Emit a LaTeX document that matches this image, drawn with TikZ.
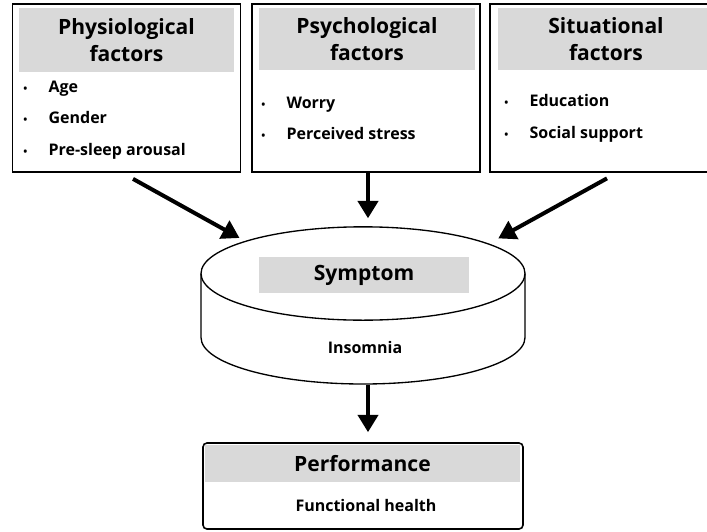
\documentclass[tikz,border=0pt]{standalone}
\usepackage{fontspec}
\setmainfont{Open Sans}
\usepackage{tikz}
\usetikzlibrary{shapes.geometric}
\usetikzlibrary{arrows.meta}
\tikzset{ factor_box/.style = {rectangle, draw, line width=1.3pt, minimum width=171pt, minimum height=126pt} }
\tikzset{ head_box/.style = {rectangle, fill=black!15, align=center, inner sep=0pt, font=\fontsize{15.8}{20.5}\selectfont\bfseries} }
\tikzset{ item_list/.style = {anchor=west, align=left, inner sep=0pt, font=\fontsize{12}{23.5}\selectfont\bfseries} }
\tikzset{ plain_text/.style = {inner sep=0pt, font=\fontsize{12}{14}\selectfont\bfseries} }
\tikzset{ big_arrow/.style = {line width=3pt, -{Triangle[length=13pt,width=15pt]}} }
\newcommand{\dotitem}{\makebox[19pt][l]{\footnotesize\textbullet}}

\begin{document}
\begin{tikzpicture}[x=0.75pt, y=-0.75pt]
            \useasboundingbox (0,0) rectangle (707,532);
            % factor boxes
            \node [factor_box] (0) at (126.5, 88) {};
            \node [factor_box] (1) at (366, 88) {};
            \node [factor_box] (2) at (604, 88) {};
            \node [head_box, minimum width=161pt, minimum height=48pt] (h0) at (126.5, 40) {Physiological\\factors};
            \node [head_box, minimum width=162pt, minimum height=47pt] (h1) at (367, 39) {Psychological\\factors};
            \node [head_box, minimum width=162pt, minimum height=47pt] (h2) at (606, 39) {Situational\\factors};
            \node [item_list] (t0) at (23, 120) {\dotitem Age\\ \dotitem Gender\\ \dotitem Pre-sleep arousal};
            \node [item_list] (t1) at (261, 118.5) {\dotitem Worry\\ \dotitem Perceived stress};
            \node [item_list] (t2) at (504, 118.5) {\dotitem Education\\ \dotitem Social support};
            % symptom cylinder
            \node [ellipse, draw, line width=1pt, outer sep=0pt, minimum width=243pt, minimum height=70pt] (3) at (363, 273.5) {};
            \draw [line width=1pt] (3.west) -- ++(0,64) arc[start angle=180, end angle=0, x radius=162, y radius=46.5] -- (3.east);
            \node [head_box, minimum width=157.5pt, minimum height=27pt] (h3) at (364, 275) {Symptom};
            \node [plain_text] (t3) at (365, 347) {Insomnia};
            \coordinate (base) at (368, 385);
            % performance
            \node [rectangle, rounded corners=3pt, draw, line width=1.2pt, minimum width=240pt, minimum height=64.5pt] (4) at (363, 486) {};
            \node [head_box, minimum width=236pt, minimum height=28pt] (h4) at (362.5, 463.5) {Performance};
            \node [plain_text] (t4) at (366, 505) {Functional health};
            % arrows
            \draw [big_arrow] ([shift={(6.5,6)}]0.south) to ([shift={(-1,-5)}]3.166);
            \draw [big_arrow] ([xshift=1.5pt]1.south) to ([xshift=1.5pt, yshift=6.4pt]1.south |- 3.north);
            \draw [big_arrow] ([shift={(3,5.5)}]2.south) to ([shift={(1,-9)}]3.11);
            \draw [big_arrow] (base) to ([xshift=3.75pt, yshift=7.5pt]4.north);
        \end{tikzpicture}
\end{document}
